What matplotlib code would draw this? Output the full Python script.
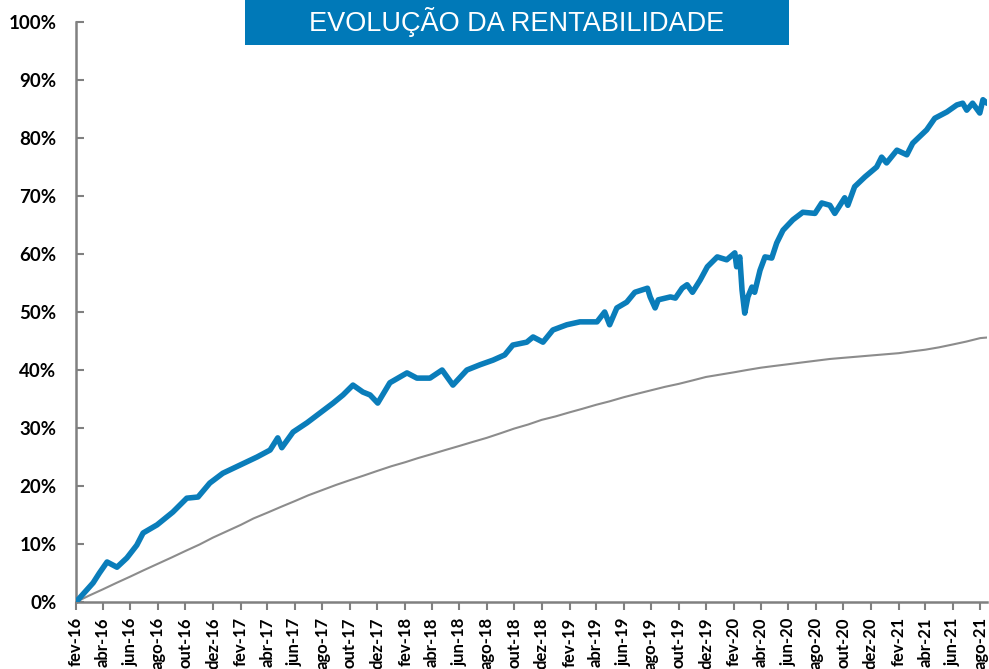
import matplotlib
matplotlib.use("Agg")
import matplotlib.pyplot as plt
import matplotlib.dates as mdates
from matplotlib.patches import Rectangle
from matplotlib.ticker import FuncFormatter, MultipleLocator
import pandas as pd

# ---------------- data ----------------
title = "EVOLUÇÃO DA RENTABILIDADE"
month_names = ["jan", "fev", "mar", "abr", "mai", "jun",
               "jul", "ago", "set", "out", "nov", "dez"]

fund_dates = [
    "2016-02-01", "2016-03-10", "2016-03-24", "2016-04-10", "2016-05-02", "2016-05-24",
    "2016-06-15", "2016-06-29", "2016-07-30", "2016-09-03", "2016-10-04", "2016-10-29",
    "2016-11-24", "2016-12-23", "2017-01-30", "2017-03-09", "2017-04-07", "2017-04-24",
    "2017-05-03", "2017-05-28", "2017-06-28", "2017-07-27", "2017-08-25", "2017-09-16",
    "2017-10-08", "2017-10-30", "2017-11-15", "2017-12-02", "2017-12-29", "2018-02-05",
    "2018-02-27", "2018-03-28", "2018-04-24", "2018-05-18", "2018-06-18", "2018-07-17",
    "2018-08-15", "2018-09-10", "2018-09-28", "2018-10-29", "2018-11-12", "2018-12-04",
    "2018-12-26", "2019-01-26", "2019-02-24", "2019-04-03", "2019-04-20", "2019-05-01",
    "2019-05-17", "2019-06-08", "2019-06-26", "2019-07-24", "2019-07-30", "2019-08-10",
    "2019-08-17", "2019-09-13", "2019-09-24", "2019-10-09", "2019-10-20", "2019-11-01",
    "2019-11-18", "2019-12-04", "2019-12-26", "2020-01-16", "2020-02-03", "2020-02-07",
    "2020-02-14", "2020-02-19", "2020-02-25", "2020-03-03", "2020-03-12", "2020-03-18",
    "2020-03-30", "2020-04-10", "2020-04-25", "2020-05-06", "2020-05-20", "2020-06-11",
    "2020-07-03", "2020-07-30", "2020-08-14", "2020-09-01", "2020-09-12", "2020-10-04",
    "2020-10-11", "2020-10-26", "2020-11-18", "2020-12-14", "2020-12-25", "2021-01-05",
    "2021-01-28", "2021-02-19", "2021-03-04", "2021-04-04", "2021-04-22", "2021-05-19",
    "2021-06-10", "2021-06-23", "2021-07-02", "2021-07-15", "2021-07-31", "2021-08-07",
    "2021-08-16",
]
fund_values = [
    0.0, 3.3, 5.0, 6.9, 6.0, 7.6,
    9.8, 11.9, 13.3, 15.5, 17.9, 18.1,
    20.5, 22.2, 23.6, 25.0, 26.2, 28.3,
    26.6, 29.3, 30.9, 32.6, 34.3, 35.7,
    37.4, 36.2, 35.7, 34.3, 37.8, 39.5,
    38.6, 38.6, 40.0, 37.4, 40.0, 40.9,
    41.7, 42.6, 44.3, 44.8, 45.7, 44.8,
    46.9, 47.8, 48.3, 48.3, 50.0, 47.8,
    50.7, 51.7, 53.4, 54.1, 52.6, 50.7,
    52.1, 52.6, 52.4, 54.1, 54.7, 53.4,
    55.5, 57.8, 59.5, 59.0, 60.2, 57.8,
    59.5, 53.8, 49.8, 52.6, 54.3, 53.4,
    57.2, 59.5, 59.3, 61.9, 64.1, 65.9,
    67.2, 67.0, 68.8, 68.4, 67.0, 69.7,
    68.4, 71.6, 73.3, 75.0, 76.7, 75.7,
    77.9, 77.1, 79.1, 81.4, 83.4, 84.5,
    85.7, 86.0, 84.8, 86.0, 84.3, 86.6,
    86.0,
]

bench_dates = list(pd.date_range("2016-02-01", "2021-08-01", freq="MS").strftime("%Y-%m-%d")) + ["2021-08-16"]
bench_values = [
    0.0, 1.1, 2.2, 3.3, 4.4, 5.5, 6.6, 7.7, 8.8, 9.9, 11.1, 12.2,
    13.3, 14.4, 15.4, 16.4, 17.4, 18.4, 19.3, 20.2, 21.0, 21.8, 22.6, 23.4,
    24.1, 24.8, 25.5, 26.2, 26.9, 27.6, 28.3, 29.1, 29.9, 30.6, 31.4,
    32.0, 32.7, 33.3, 34.0, 34.6, 35.3, 35.9, 36.5, 37.1, 37.6, 38.2, 38.8,
    39.2, 39.6, 40.0, 40.4, 40.7, 41.0, 41.3, 41.6, 41.9,
    42.1, 42.3, 42.5, 42.7, 42.9, 43.2, 43.5, 43.9, 44.4, 44.9, 45.5,
    45.6,
]

x_start = "2016-02-01"
x_end = "2021-08-16"

# ---------------- style ----------------
blue = "#0A7DBA"
box_blue = "#0079B8"
grey = "#8C8C8C"
axis_grey = "#808080"
font = ["Lato", "DejaVu Sans"]

fig = plt.figure(figsize=(9.89, 6.69), dpi=100)
ax = fig.add_axes([76 / 989, 1 - 602 / 669, (987 - 76) / 989, (602 - 22) / 669])

fd = pd.to_datetime(fund_dates)
bd = pd.to_datetime(bench_dates)
ax.plot(bd, [v / 100 for v in bench_values], color=grey, lw=1.5, zorder=2)
ax.plot(fd, [v / 100 for v in fund_values], color=blue, lw=4.0,
        solid_joinstyle="round", solid_capstyle="round", zorder=3)

ax.set_xlim(pd.Timestamp(x_start), pd.Timestamp(x_end))
ax.set_ylim(0, 1.0)

ax.yaxis.set_major_locator(MultipleLocator(0.1))
ax.yaxis.set_major_formatter(FuncFormatter(lambda v, p: f"{v * 100:.0f}%"))
ax.xaxis.set_major_locator(mdates.MonthLocator(bymonth=[2, 4, 6, 8, 10, 12]))
ax.xaxis.set_major_formatter(FuncFormatter(
    lambda v, p: f"{month_names[mdates.num2date(v).month - 1]}-{mdates.num2date(v).year % 100:02d}"))

for s in ["top", "right"]:
    ax.spines[s].set_visible(False)
for s in ["left", "bottom"]:
    ax.spines[s].set_color(axis_grey)
    ax.spines[s].set_linewidth(1.8)

ax.tick_params(axis="y", direction="in", length=6, width=1.5, color=axis_grey,
               pad=14, labelsize=13.5)
ax.tick_params(axis="x", direction="out", length=6, width=1.5, color=axis_grey,
               pad=5, labelsize=12, labelrotation=90)
for lab in ax.get_yticklabels():
    lab.set_fontweight("bold")
    lab.set_family(font)
for lab in ax.get_xticklabels():
    lab.set_fontweight("bold")
    lab.set_family(font)
    lab.set_va("top")

# title box
fig.patches.append(Rectangle((245 / 989, 1 - 45 / 669), (789 - 245) / 989, 45 / 669,
                             transform=fig.transFigure, facecolor=box_blue,
                             edgecolor="none", zorder=5))
fig.text((245 + 789) / 2 / 989, 1 - 22 / 669, title, color="white",
         fontsize=19.5, family=["Liberation Sans", "DejaVu Sans"],
         ha="center", va="center", zorder=6)

fig.savefig("out.png", dpi=100)
